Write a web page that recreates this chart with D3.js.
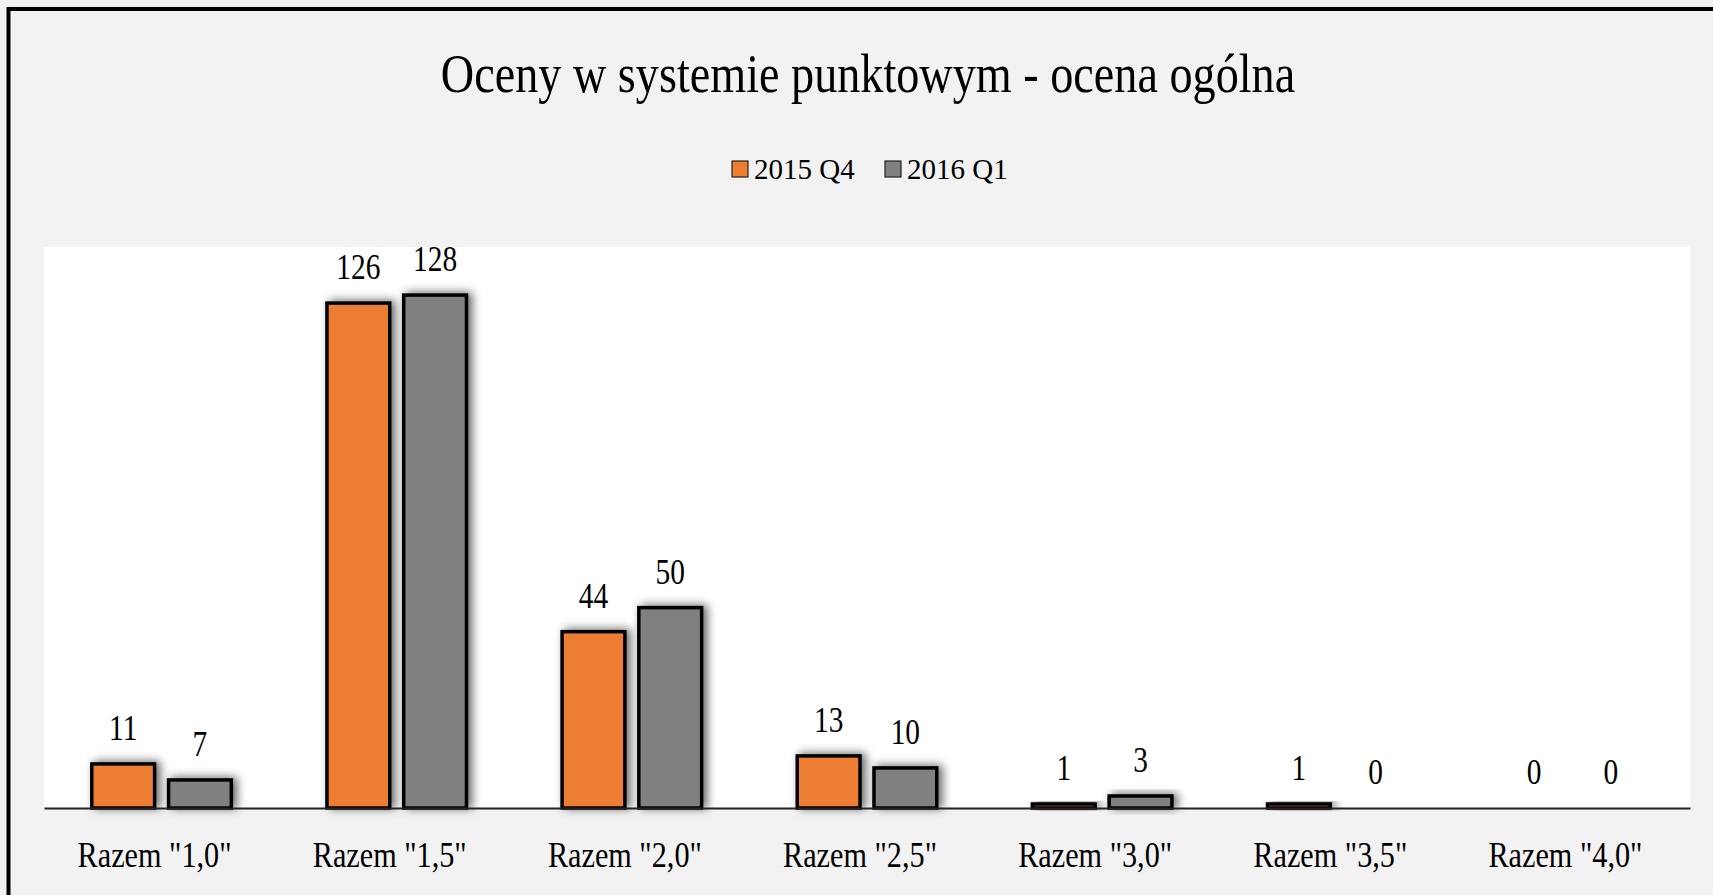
<!DOCTYPE html>
<html>
<head>
<meta charset="utf-8">
<script src="https://cdn.jsdelivr.net/npm/d3@7"></script>
<style>
  html, body { margin: 0; padding: 0; background: #f2f2f2; overflow: hidden; }
  text { font-family: "Liberation Serif", "Times New Roman", serif; fill: #000; }
</style>
</head>
<body>
<div id="chart"></div>
<script>
// Chart data
const title = "Oceny w systemie punktowym - ocena ogólna";
const categories = ['Razem "1,0"', 'Razem "1,5"', 'Razem "2,0"', 'Razem "2,5"', 'Razem "3,0"', 'Razem "3,5"', 'Razem "4,0"'];
const seriesNames = ["2015 Q4", "2016 Q1"];
const values2015Q4 = [11, 126, 44, 13, 1, 1, 0];
const values2016Q1 = [7, 128, 50, 10, 3, 0, 0];
const seriesColors = ["#ed7d31", "#808080"];

const width = 1713, height = 895;
const plot = { left: 44, right: 1690, top: 247, bottom: 808 };
const squeeze = 0.84; // text in the picture is narrowed horizontally

const svg = d3.select("#chart").append("svg")
  .attr("width", width)
  .attr("height", height);

const defs = svg.append("defs");
const shadow = defs.append("filter").attr("id", "shadow")
  .attr("x", "-50%").attr("y", "-50%").attr("width", "200%").attr("height", "200%");
shadow.append("feDropShadow")
  .attr("dx", 4).attr("dy", -1)
  .attr("stdDeviation", 5)
  .attr("flood-color", "#000")
  .attr("flood-opacity", 0.6);

// chart area background + frame
svg.append("rect")
  .attr("x", 0).attr("y", 0).attr("width", width).attr("height", height)
  .attr("fill", "#f2f2f2");
svg.append("rect")
  .attr("x", 8.5).attr("y", 9)
  .attr("width", width + 20).attr("height", height + 20)
  .attr("fill", "none")
  .attr("stroke", "#000")
  .attr("stroke-width", 4);

// plot area
svg.append("rect")
  .attr("x", plot.left).attr("y", plot.top)
  .attr("width", plot.right - plot.left).attr("height", plot.bottom - plot.top)
  .attr("fill", "#fff");

function squeezedText(sel, x, y) {
  return sel.attr("transform", `translate(${x},${y}) scale(${squeeze},1)`);
}

// title
squeezedText(svg.append("text"), 868, 92)
  .attr("text-anchor", "middle")
  .attr("font-size", 55)
  .text(title);

// legend
const legend = svg.append("g").attr("transform", "translate(732,161)");
seriesNames.forEach((name, i) => {
  const g = legend.append("g").attr("transform", `translate(${i * 153},0)`);
  g.append("rect")
    .attr("width", 16).attr("height", 16)
    .attr("fill", seriesColors[i])
    .attr("stroke", "#222")
    .attr("stroke-width", 1.2);
  g.append("text")
    .attr("x", 22).attr("y", 18)
    .attr("font-size", 29)
    .text(name);
});

// scales
const x0 = d3.scaleBand()
  .domain(categories)
  .range([plot.left, plot.right])
  .padding(0);

const x1 = d3.scaleBand()
  .domain(seriesNames)
  .range([0, x0.bandwidth()])
  .paddingInner(0.182)
  .paddingOuter(0.623);

const y = d3.scaleLinear()
  .domain([0, 140])
  .range([plot.bottom, plot.top]);

const rows = categories.map((c, i) => ({
  category: c,
  values: [
    { series: seriesNames[0], value: values2015Q4[i], color: seriesColors[0] },
    { series: seriesNames[1], value: values2016Q1[i], color: seriesColors[1] }
  ]
}));

const groups = svg.append("g").selectAll("g")
  .data(rows)
  .join("g")
  .attr("transform", d => `translate(${x0(d.category)},0)`);

groups.selectAll("rect")
  .data(d => d.values.filter(v => v.value > 0))
  .join("rect")
  .attr("x", d => x1(d.series))
  .attr("y", d => y(d.value))
  .attr("width", x1.bandwidth())
  .attr("height", d => y(0) - y(d.value))
  .attr("fill", d => d.color)
  .attr("stroke", "#000")
  .attr("stroke-width", 3.5)
  .attr("filter", "url(#shadow)");

// value labels
groups.selectAll("text")
  .data(d => d.values)
  .join("text")
  .attr("text-anchor", "middle")
  .attr("font-size", 35)
  .attr("transform", d => `translate(${x1(d.series) + x1.bandwidth() / 2},${y(d.value) - 24}) scale(${squeeze},1)`)
  .text(d => d.value);

// x axis
const xAxis = svg.append("g")
  .attr("transform", `translate(0,${plot.bottom})`)
  .call(d3.axisBottom(x0).tickSize(0).tickPadding(0));
xAxis.select(".domain").attr("stroke", "#222").attr("stroke-width", 2);
xAxis.selectAll(".tick text")
  .attr("font-size", 36)
  .attr("font-family", null)
  .attr("fill", "#000")
  .attr("dy", 0)
  .attr("y", 0)
  .attr("transform", `translate(-7,59) scale(${squeeze},1)`);
</script>
</body>
</html>
